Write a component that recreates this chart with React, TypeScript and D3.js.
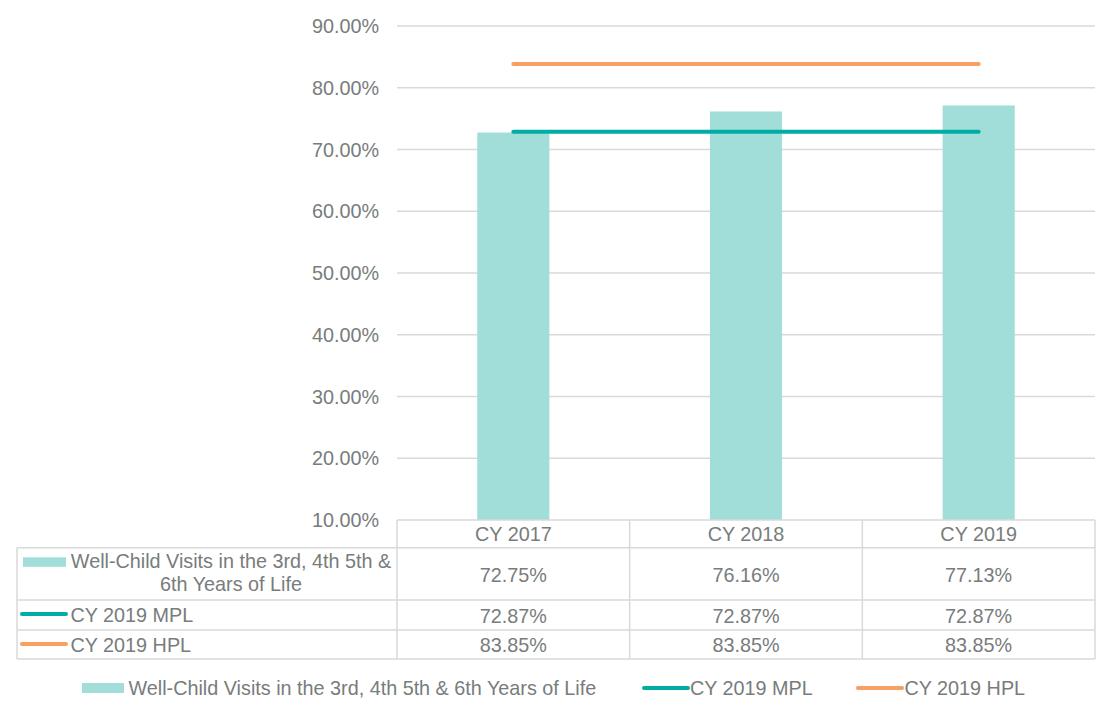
import { useEffect, useRef } from "react";
import * as d3 from "d3";

const categories = ["CY 2017", "CY 2018", "CY 2019"];
const wellChildRates = [0.7275, 0.7616, 0.7713];
const mplValues = [0.7287, 0.7287, 0.7287];
const hplValues = [0.8385, 0.8385, 0.8385];
const yTickValues = [0.1, 0.2, 0.3, 0.4, 0.5, 0.6, 0.7, 0.8, 0.9];
const barName = "Well-Child Visits in the 3rd, 4th 5th & 6th Years of Life";
const barNameLines = ["Well-Child Visits in the 3rd, 4th 5th &", "6th Years of Life"];
const mplName = "CY 2019 MPL";
const hplName = "CY 2019 HPL";

const BAR = "#a2ded9";
const MPL = "#00ada5";
const HPL = "#f7a05f";
const GRID = "#d9d9d9";
const TEXT = "#787c7c";
const FONT = "'Liberation Sans', Arial, sans-serif";
const FS = "19.8px";

export default function App() {
  const svgRef = useRef<SVGSVGElement | null>(null);

  useEffect(() => {
    const width = 1099;
    const height = 702;
    const left = 397;
    const right = 1095;
    const top = 26;
    const bottom = 520;
    const tableLeft = 17;
    // table row boundaries
    const rows = [520, 547.7, 600, 630, 659];

    const svg = d3.select(svgRef.current);
    svg.selectAll("*").remove();
    svg.attr("width", width).attr("height", height);

    const y = d3.scaleLinear().domain([0.1, 0.9]).range([bottom, top]);
    const col = d3.scaleBand<string>().domain(categories).range([left, right]).padding(0);
    const xb = d3
      .scaleBand<string>()
      .domain(categories)
      .range([left, right])
      .paddingInner(0.69)
      .paddingOuter(0.345);
    const pct = d3.format(".2%");

    // gridlines
    svg
      .append("g")
      .selectAll("line")
      .data(yTickValues.slice(1))
      .join("line")
      .attr("x1", left)
      .attr("x2", right)
      .attr("y1", (d) => y(d))
      .attr("y2", (d) => y(d))
      .attr("stroke", GRID)
      .attr("stroke-width", 1.3);

    // y labels
    svg
      .append("g")
      .selectAll("text")
      .data(yTickValues)
      .join("text")
      .attr("x", 379)
      .attr("y", (d) => y(d))
      .attr("dy", "0.36em")
      .attr("text-anchor", "end")
      .style("font-family", FONT)
      .style("font-size", FS)
      .attr("fill", TEXT)
      .text((d) => pct(d));

    // bars
    svg
      .append("g")
      .selectAll("rect")
      .data(wellChildRates)
      .join("rect")
      .attr("x", (_, i) => xb(categories[i])!)
      .attr("width", xb.bandwidth())
      .attr("y", (d) => y(d))
      .attr("height", (d) => bottom - y(d))
      .attr("fill", BAR);

    // reference lines
    const line = d3
      .line<number>()
      .x((_, i) => col(categories[i])! + col.bandwidth() / 2)
      .y((d) => y(d));
    [
      [mplValues, MPL],
      [hplValues, HPL],
    ].forEach(([vals, c]) => {
      svg
        .append("path")
        .attr("d", line(vals as number[]))
        .attr("fill", "none")
        .attr("stroke", c as string)
        .attr("stroke-width", 4)
        .attr("stroke-linecap", "round");
    });

    // data table
    const t = svg.append("g");
    const hline = (x1: number, y0: number) =>
      t
        .append("line")
        .attr("x1", x1)
        .attr("x2", right)
        .attr("y1", y0)
        .attr("y2", y0)
        .attr("stroke", GRID)
        .attr("stroke-width", 1.5);
    hline(left, rows[0]);
    rows.slice(1).forEach((r) => hline(tableLeft, r));
    const vline = (x0: number, y1: number) =>
      t
        .append("line")
        .attr("x1", x0)
        .attr("x2", x0)
        .attr("y1", y1)
        .attr("y2", rows[4])
        .attr("stroke", GRID)
        .attr("stroke-width", 1.5);
    vline(tableLeft, rows[1]);
    categories.forEach((c) => vline(col(c)!, rows[0]));
    vline(right, rows[0]);

    const cellText = (x: number, yy: number, s: string, anchor = "middle") =>
      t
        .append("text")
        .attr("x", x)
        .attr("y", yy)
        .attr("text-anchor", anchor)
        .style("font-family", FONT)
        .style("font-size", FS)
        .attr("fill", TEXT)
        .text(s);

    const rowBase = [541, 581.5, 623, 651.5];
    categories.forEach((c, i) => {
      const cx = col(c)! + col.bandwidth() / 2;
      cellText(cx, rowBase[0], c);
      cellText(cx, rowBase[1], pct(wellChildRates[i]));
      cellText(cx, rowBase[2], pct(mplValues[i]));
      cellText(cx, rowBase[3], pct(hplValues[i]));
    });

    // row labels with keys
    t.append("rect").attr("x", 23).attr("y", 557.3).attr("width", 43).attr("height", 9.5).attr("fill", BAR);
    cellText(231, 568, barNameLines[0]);
    cellText(231, 590.5, barNameLines[1]);
    t.append("line").attr("x1", 22).attr("x2", 66).attr("y1", 614).attr("y2", 614)
      .attr("stroke", MPL).attr("stroke-width", 4).attr("stroke-linecap", "round");
    cellText(70.5, 621.5, mplName, "start");
    t.append("line").attr("x1", 22).attr("x2", 66).attr("y1", 644).attr("y2", 644)
      .attr("stroke", HPL).attr("stroke-width", 4).attr("stroke-linecap", "round");
    cellText(70.5, 651.5, hplName, "start");

    // legend
    const lg = svg.append("g");
    lg.append("rect").attr("x", 82).attr("y", 683).attr("width", 42).attr("height", 10).attr("fill", BAR);
    cellText(128.5, 695, barName, "start");
    lg.append("line").attr("x1", 644).attr("x2", 688).attr("y1", 688).attr("y2", 688)
      .attr("stroke", MPL).attr("stroke-width", 4).attr("stroke-linecap", "round");
    cellText(690, 695, mplName, "start");
    lg.append("line").attr("x1", 858).attr("x2", 902).attr("y1", 688).attr("y2", 688)
      .attr("stroke", HPL).attr("stroke-width", 4).attr("stroke-linecap", "round");
    cellText(904.5, 695, hplName, "start");
  }, []);

  return (
    <div style={{ position: "absolute", left: 0, top: 0, background: "#fff" }}>
      <svg ref={svgRef} style={{ display: "block" }}></svg>
    </div>
  );
}
